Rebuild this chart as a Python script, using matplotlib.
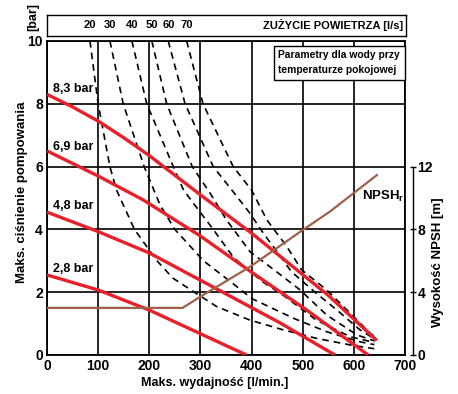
import matplotlib
matplotlib.use("Agg")
import matplotlib.pyplot as plt
from matplotlib import font_manager

# flow [l/min] vs max discharge pressure [bar], one curve per air pressure
pressure_labels = ["8,3 bar", "6,9 bar", "4,8 bar", "2,8 bar"]
pressure_label_y = [8.47, 6.62, 4.75, 2.74]
p83_x = [0, 50, 100, 150, 200, 300, 400, 550, 645]
p83_y = [8.3, 7.9, 7.45, 6.92, 6.35, 5.1, 3.88, 1.9, 0.46]
p69_x = [0, 100, 188, 299, 397, 508, 628]
p69_y = [6.5, 5.7, 4.94, 3.8, 2.67, 1.43, 0.0]
p48_x = [0, 100, 200, 330, 456, 563]
p48_y = [4.55, 3.93, 3.25, 2.12, 1.02, 0.0]
p28_x = [0, 100, 200, 390]
p28_y = [2.55, 2.07, 1.43, 0.0]

# air consumption curves [l/s]
air_labels = ["20", "30", "40", "50", "60", "70"]
air_x = [
    [84, 100, 123, 136, 171, 214, 246, 288, 332, 397, 462, 527, 593, 640],
    [123, 149, 190, 221, 250, 306, 371, 400, 482, 547, 612, 640],
    [166, 195, 247, 267, 325, 365, 420, 462, 527, 593, 640],
    [205, 234, 284, 319, 351, 397, 445, 495, 547, 606, 640],
    [237, 270, 325, 364, 397, 423, 452, 478, 527, 567, 612, 642],
    [273, 305, 364, 400, 430, 469, 498, 547, 593, 632, 645],
]
air_y = [
    [10, 8, 6, 5.25, 4.0, 3.02, 2.45, 2.0, 1.54, 1.11, 0.8, 0.53, 0.32, 0.2],
    [10, 8, 6, 4.78, 4.0, 3.0, 2.18, 1.8, 1.17, 0.74, 0.42, 0.33],
    [10, 8, 6, 5.25, 4.0, 3.1, 2.35, 1.9, 1.11, 0.58, 0.4],
    [10, 8, 6, 5.15, 4.3, 3.29, 2.7, 2.07, 1.27, 0.64, 0.45],
    [10, 8, 6, 5.2, 4.51, 3.88, 3.24, 2.65, 1.96, 1.43, 0.8, 0.5],
    [10, 8, 6, 5.25, 4.3, 3.45, 2.71, 2.07, 1.33, 0.69, 0.55],
]

# NPSHr [m]
npsh_x = [0, 265, 299, 397, 500, 553, 645]
npsh_y = [3.0, 3.0, 3.7, 5.62, 7.96, 9.13, 11.46]

xticks = [0, 100, 200, 300, 400, 500, 600, 700]
yticks = [0, 2, 4, 6, 8, 10]
npsh_ticks = [0, 4, 8, 12]

names = {f.name for f in font_manager.fontManager.ttflist}
fam = "Liberation Sans Narrow" if "Liberation Sans Narrow" in names else "Liberation Sans"
plt.rcParams["font.family"] = [fam, "DejaVu Sans"]
plt.rcParams["font.weight"] = "bold"
plt.rcParams["mathtext.fontset"] = "custom"
plt.rcParams["mathtext.rm"] = fam + ":bold"
plt.rcParams["mathtext.bf"] = fam + ":bold"

RED = "#e8202a"
BROWN = "#a0604a"

fig = plt.figure(figsize=(4.58, 3.94), dpi=100)
ax = fig.add_axes([47 / 458, 39 / 394, 358 / 458, 314 / 394])
ax.set_xlim(0, 700)
ax.set_ylim(0, 10)
ax.set_xticks(xticks)
ax.set_yticks(yticks)
ax.tick_params(length=0, labelsize=10, pad=3)
ax.grid(True, color="black", lw=1.2)
ax.set_axisbelow(True)
for s in ax.spines.values():
    s.set_linewidth(1.3)

for xs, ys in zip(air_x, air_y):
    ax.plot(xs, ys, color="black", lw=1.2, dashes=(4, 3), zorder=2)

for xs, ys in [(p83_x, p83_y), (p69_x, p69_y), (p48_x, p48_y), (p28_x, p28_y)]:
    ax.plot(xs, ys, color=RED, lw=2.4, solid_capstyle="butt", zorder=4)
for lbl, yy in zip(pressure_labels, pressure_label_y):
    ax.text(12, yy, lbl, fontsize=9, va="center", ha="left", zorder=5)

ax.text(452, 9.7, "Parametry dla wody przy\ntemperaturze pokojowej", fontsize=7.4,
        va="top", ha="left", linespacing=1.6, zorder=6,
        bbox=dict(boxstyle="square,pad=0.45", fc="white", ec="black", lw=1))

ax2 = ax.twinx()
ax2.set_ylim(0, 20)
ax2.set_yticks(npsh_ticks)
ax2.tick_params(axis="y", direction="inout", length=5, width=1, labelsize=10, pad=1)
for k in ["top", "left", "bottom"]:
    ax2.spines[k].set_visible(False)
ax2.spines["right"].set_position(("outward", 5.5))
ax2.spines["right"].set_bounds(0, 12)
ax2.spines["right"].set_linewidth(1)
ax2.plot(npsh_x, npsh_y, color=BROWN, lw=1.6, zorder=3)
ax2.text(615, 10.1, r"NPSH$_\mathbf{r}$", fontsize=9.5, va="center", ha="left")

# air consumption scale box
bx = fig.add_axes([47 / 458, 358 / 394, 359 / 458, 21 / 394])
bx.set_xlim(0, 700)
bx.set_ylim(0, 1)
bx.set_xticks([])
bx.set_yticks([])
for s in bx.spines.values():
    s.set_linewidth(1)
for lbl, xs in zip(air_labels, air_x):
    bx.text(xs[0], 0.5, lbl, fontsize=8, ha="center", va="center")
bx.text(695, 0.5, "ZUŻYCIE POWIETRZA [l/s]", fontsize=8, ha="right", va="center")

fig.text(33 / 458, 1 - 17 / 394, "[bar]", rotation=90, fontsize=9, ha="center", va="center")
fig.text(22 / 458, 1 - 192 / 394, "Maks. ciśnienie pompowania", rotation=90, fontsize=9.5,
         ha="center", va="center")
fig.text(438 / 458, 1 - 262 / 394, "Wysokość NPSH [m]", rotation=90, fontsize=9.5,
         ha="center", va="center")
fig.text(215 / 458, 1 - 383 / 394, "Maks. wydajność [l/min.]", fontsize=9,
         ha="center", va="center")

fig.savefig("out.png", dpi=100)
